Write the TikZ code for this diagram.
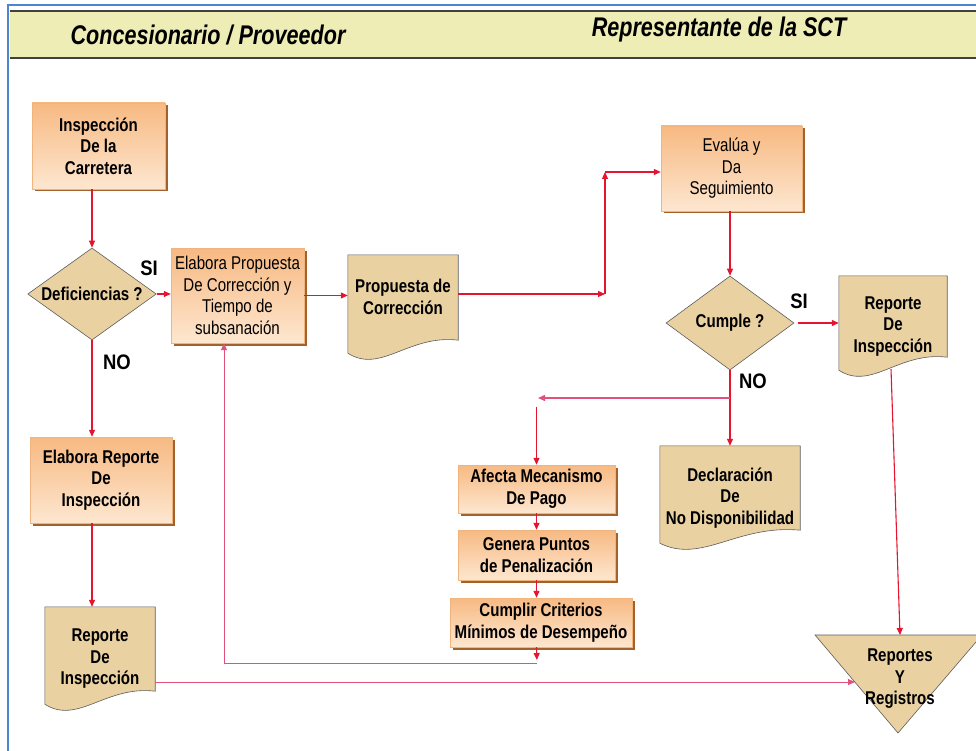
\documentclass[tikz,border=0pt]{standalone}
\usepackage{fontspec}
\setmainfont{Liberation Sans}[FakeStretch=0.815]
\newfontfamily\headfont{Liberation Sans}[FakeStretch=0.8]
\newfontfamily\answerfont{Liberation Sans}[FakeStretch=0.88]
\usetikzlibrary{calc,arrows.meta,shadows,shapes.geometric,backgrounds}

\definecolor{boxtop}{HTML}{F7B982}
\definecolor{boxbot}{HTML}{FDE7D0}
\definecolor{boxedge}{HTML}{F0B47E}
\definecolor{boxshade}{HTML}{A3612C}
\definecolor{doctan}{HTML}{E9D1A2}
\definecolor{docedge}{HTML}{5C5C5C}
\definecolor{bandfill}{HTML}{EEEDB6}
\definecolor{frameblue}{HTML}{4D86CF}
\definecolor{flowred}{HTML}{E5142F}
\definecolor{flowpink}{HTML}{E2517C}

\tikzset{
  every node/.style={inner sep=0pt},
  reg/.style={font=\fontsize{18.5}{21.5}\selectfont, align=center},
  bld/.style={font=\bfseries\fontsize{18.5}{21.5}\selectfont, align=center},
  procbox/.style={rectangle, top color=boxtop, bottom color=boxbot, draw=boxedge,
    line width=0.4pt,
    drop shadow={shadow xshift=2.5pt, shadow yshift=-2.5pt, fill=boxshade, opacity=1}},
  decision/.style={bld, diamond, aspect=2, fill=doctan, draw=docedge, line width=0.6pt},
  doctext/.style={bld, rectangle},
  docoutline/.style={fill=doctan, draw=docedge, line width=0.6pt},
  arrowtip/.style={-{Triangle[length=7pt,width=6pt]}},
  flow/.style={draw=flowred, line width=1.1pt, arrowtip},
  flowplain/.style={draw=flowred, line width=1.1pt},
  loopline/.style={draw=flowpink, line width=1pt},
  answer/.style={font=\answerfont\bfseries\fontsize{21}{21}\selectfont},
  heading/.style={font=\headfont\bfseries\itshape\fontsize{27}{27}\selectfont},
}

% document symbol with a wavy lower edge, drawn around a named node
\newcommand\wavydoc[1]{%
  \path[docoutline] (#1.north west) -- (#1.north east) -- ($(#1.south east)+(0,-20)$)
    .. controls ($(#1.south west)!0.55!(#1.south east)+(0,-26)$)
    and ($(#1.south west)!0.3!(#1.south east)+(0,14)$)
    .. ($(#1.south west)+(0,-7)$) -- cycle;}

\begin{document}
\begin{tikzpicture}[x=1pt,y=-1pt]
\useasboundingbox (0,0) rectangle (976,751);
\clip (0,0) rectangle (976,751);

% outer frame and heading band
\fill[bandfill] (10,11) rectangle (982,58);
\draw[line width=1.6pt, black!75] (10,11) -- (982,11);
\draw[line width=1.6pt, black!75] (10,58) -- (982,58);
\draw[frameblue, line width=2pt] (8,760) -- (8,5) -- (982,5);

\node[heading] (hleft) at (208,35) {Concesionario / Proveedor};
\node[heading] (hright) at (719,30) {Representante de la SCT};

% process boxes
\node[procbox, bld, minimum width=133pt, minimum height=86pt] (ins) at (98.5,146)
  {Inspección\\De la\\Carretera};
\node[procbox, reg, minimum width=133pt, minimum height=95pt] (prop) at (237.5,295.5)
  {Elabora Propuesta\\De Corrección y\\Tiempo de\\subsanación};
\node[procbox, reg, minimum width=141pt, minimum height=85pt] (eva) at (731.5,168.5)
  {Evalúa y\\Da\\Seguimiento};
\node[procbox, bld, minimum width=142pt, minimum height=86pt] (rep) at (101,480)
  {Elabora Reporte\\De\\Inspección};
\node[procbox, bld, minimum width=157pt, minimum height=48pt] (afe) at (536.5,489)
  {Afecta Mecanismo\\De Pago};
\node[procbox, bld, minimum width=157pt, minimum height=50pt] (gen) at (536.5,555)
  {Genera Puntos\\de Penalización};
\node[procbox, bld, minimum width=182pt, minimum height=49pt] (cpl) at (541,622.5)
  {Cumplir Criterios\\Mínimos de Desempeño};

% decisions
\node[decision, minimum width=128pt, minimum height=92pt] (def) at (92,294) {Deficiencias ?};
\node[decision, minimum width=128pt, minimum height=94pt] (cum) at (730,323) {Cumple ?};

% documents
\node[doctext, minimum width=110pt, minimum height=105pt] (pdoc) at (403,307.5)
  {Propuesta de\\Corrección\\\mbox{}};
\node[doctext, minimum width=108pt, minimum height=101pt] (rdoc) at (893,326.5)
  {Reporte\\De\\Inspección};
\node[doctext, minimum width=140pt, minimum height=104pt] (decl) at (730,498)
  {Declaración\\De\\No Disponibilidad};
\node[doctext, minimum width=110pt, minimum height=104pt] (lrd) at (100,659)
  {Reporte\\De\\Inspección};
\begin{scope}[on background layer]
  \foreach \d in {pdoc,rdoc,decl,lrd} {\wavydoc{\d}}
\end{scope}

% storage triangle
\coordinate (tL) at (815,635);
\coordinate (tR) at (982,635);
\coordinate (tB) at (898,733);
\path[docoutline] (tL) -- (tR) -- (tB) -- cycle;
\node[bld] (rr) at (900,679) {Reportes\\Y\\Registros};
\coordinate (tIn) at (855,682);
\coordinate (tTop) at (900,635);

% answers
\node[answer] (si1) at (149,268) {SI};
\node[answer] (no1) at (117,362) {NO};
\node[answer] (si2) at (799,301) {SI};
\node[answer] (no2) at (753,381) {NO};

% connectors
\draw[flow] (def.north |- ins.south) -- (def.north);
\draw[flow] (def.east) -- (prop.west |- def.east);
\draw[flow] (prop.east) -- (pdoc.west |- prop.east);
\coordinate (j1) at (605,294);
\coordinate (j2) at (605,172);
\draw[flow] (pdoc.east |- j1) -- (j1);
\draw[flow] (j1) -- (j2);
\draw[flow] (j2) -- (eva.west |- j2);
\draw[flow] (cum.north |- eva.south) -- (cum.north);
\draw[flow, shorten <=4pt] (cum.east) -- (rdoc.west |- cum.east);
\coordinate (j3) at (730,398);
\coordinate (j4) at (538,398);
\draw[flowplain] (cum.south) -- (j3);
\draw[flow] (j3) -- (decl.north);
\draw[loopline, line width=1.4pt, arrowtip] (j3) -- (j4);
\draw[flow, shorten <=9pt] (afe.north |- j4) -- (afe.north);
\draw[flow] (afe.south) -- (gen.north);
\draw[flow] (gen.south) -- (gen.south |- cpl.north);
\coordinate (j5) at (537,663);
\coordinate (j6) at (224,663);
\draw[flow, shorten >=3pt] (gen.south |- cpl.south) -- (j5);
\draw[loopline] (j5) -- (j6);
\draw[loopline, arrowtip] (j6) -- (j6 |- prop.south);
\draw[flow] (def.south) -- (def.south |- rep.north);
\draw[flow] (def.south |- rep.south) -- (def.south |- lrd.north);
\draw[loopline, arrowtip] (lrd.east |- tIn) -- (tIn);
\draw[flow] ($(rdoc.south)+(-2,-8)$) -- (tTop);
\end{tikzpicture}
\end{document}
